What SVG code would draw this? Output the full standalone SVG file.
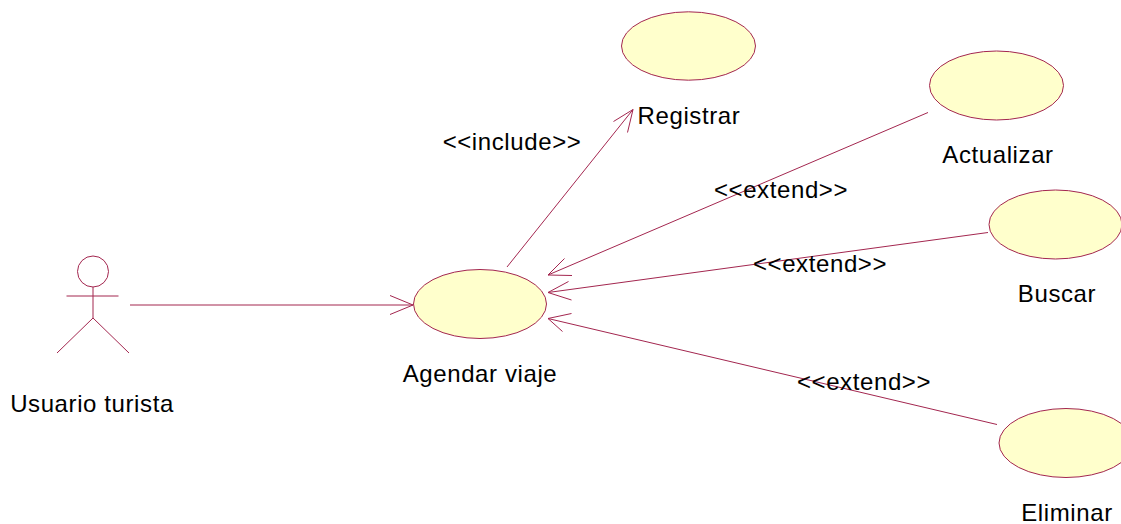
<svg xmlns="http://www.w3.org/2000/svg" width="1121" height="524" viewBox="0 0 1121 524">
<style>
.uc{fill:#FFFFCC;stroke:#A3264F;stroke-width:1}
.ln{fill:none;stroke:#A3264F;stroke-width:1}
.t{font-family:"Liberation Sans",Arial,sans-serif;font-size:24px;fill:#000;text-anchor:middle;letter-spacing:0.6px}
</style>
<rect width="1121" height="524" fill="#fff"/>
<g id="connectors">
<path class="ln" d="M130,305 L413,305 M390,295.5 L413,305 L390,314.5"/>
<path class="ln" d="M507,267 L633,109.5 M613.5,121.5 L633,109.5 L627.5,132.5"/>
<path class="ln" d="M928,112.5 L548,275 M564.5,258.5 L548,275 L572,275.5"/>
<path class="ln" d="M988,232.5 L548,292.5 M568.5,281.5 L548,292.5 L571.5,300"/>
<path class="ln" d="M997,424.5 L548,318.5 M571.5,313.5 L548,318.5 L562.5,331.5"/>
</g>
<g id="actor">
<circle class="ln" cx="93" cy="271.5" r="15.5"/>
<path class="ln" d="M66.5,296 L118.5,296 M93,287 L93,318 L57,353 M93,318 L129,353"/>
<text class="t" x="92" y="412">Usuario turista</text>
</g>
<g id="agendar">
<ellipse class="uc" cx="480" cy="304" rx="66.5" ry="34.5"/>
<text class="t" x="480" y="382">Agendar viaje</text>
</g>
<g id="registrar">
<ellipse class="uc" cx="688.5" cy="46" rx="67" ry="34.2"/>
<text class="t" x="689" y="124">Registrar</text>
</g>
<g id="actualizar">
<ellipse class="uc" cx="996.5" cy="85.5" rx="67" ry="34.5"/>
<text class="t" x="998" y="163">Actualizar</text>
</g>
<g id="buscar">
<ellipse class="uc" cx="1055.5" cy="224.5" rx="66.5" ry="34.5"/>
<text class="t" x="1057" y="302">Buscar</text>
</g>
<g id="eliminar">
<ellipse class="uc" cx="1066" cy="443" rx="67" ry="34.5"/>
<text class="t" x="1067" y="521">Eliminar</text>
</g>
<g id="labels">
<text class="t" x="512" y="150">&lt;&lt;include&gt;&gt;</text>
<text class="t" x="781" y="198">&lt;&lt;extend&gt;&gt;</text>
<text class="t" x="820" y="272">&lt;&lt;extend&gt;&gt;</text>
<text class="t" x="864" y="390">&lt;&lt;extend&gt;&gt;</text>
</g>
</svg>
